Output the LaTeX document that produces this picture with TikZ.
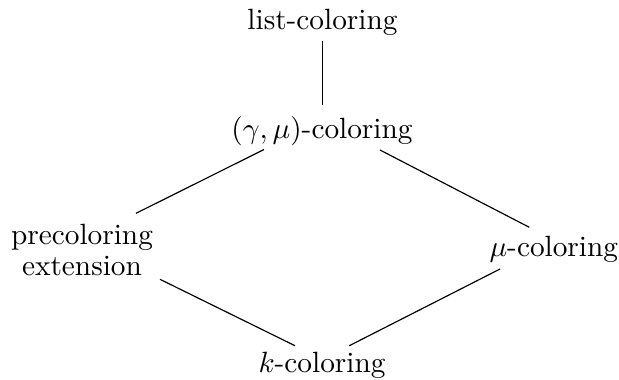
\documentclass[tikz,border=0pt]{standalone}
\usetikzlibrary{calc}
\begin{document}
\begin{tikzpicture}[x=0.3413pt,y=-0.3413pt,
  lbl/.style={inner sep=0pt},
  link/.style={draw=black,line width=0.4pt}]
\useasboundingbox (0,0) rectangle (619,379);
\node[lbl,anchor=base] (list) at (322.5,29) {list-coloring};
\node[lbl,anchor=base] (gm) at (322,138.5) {$(\gamma,\mu)$-coloring};
\node[lbl,align=center] (pre) at (82,250) {precoloring\\[-1.2pt]extension};
\node[lbl,anchor=base] (mu) at (553.8,256.7) {$\mu$-coloring};
\node[lbl,anchor=base] (k) at (322,372) {$k$-coloring};
\draw[link] ($(list.base)+(0.2,12)$) -- ($(gm.base)+(0.7,-33.5)$);
\draw[link] ($(gm.base)+(-58,11)$) -- ($(pre.center)+(54,-36.7)$);
\draw[link] ($(gm.base)+(58,11.5)$) -- ($(mu.base)+(-24.5,-29.4)$);
\draw[link] ($(pre.center)+(78,29.3)$) -- ($(k.base)+(-27,-26.3)$);
\draw[link] ($(mu.base)+(-53.8,12.3)$) -- ($(k.base)+(27.3,-26.3)$);
\end{tikzpicture}
\end{document}
